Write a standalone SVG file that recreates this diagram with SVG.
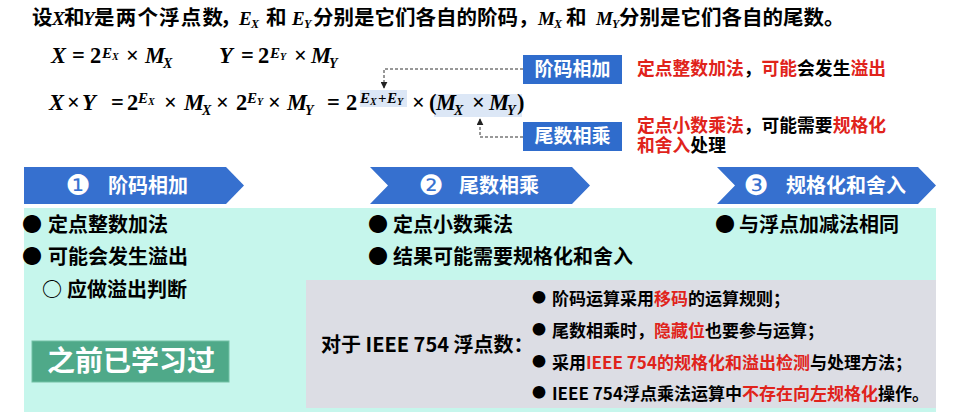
<svg xmlns="http://www.w3.org/2000/svg" width="960" height="412" viewBox="0 0 960 412">
<style>
.cn{font-family:"Noto Sans CJK SC","Liberation Sans",sans-serif;font-weight:bold}
.ti{font-family:"Liberation Serif",serif;font-style:italic;font-weight:bold;font-size:19px}
.tis{font-family:"Liberation Serif",serif;font-style:italic;font-weight:bold;font-size:12px}
.m{font-family:"Liberation Serif",serif;font-weight:bold;font-style:italic;font-size:22.5px}
.mu{font-style:normal}
.sp{font-size:15px}
.ss{font-size:10px}
.sb{font-size:14px}
.red{fill:#E0231B}
.wh{fill:#FFFFFF}
.chev{fill:#3670CF}
.lbl{fill:#2F6CCC}
.hl{fill:#DCE7F6}
.dash{fill:none;stroke:#333;stroke-width:1;stroke-dasharray:3 2}
.circ{font-family:"DejaVu Sans",sans-serif;font-size:28px;fill:#FFFFFF}
.gb{font-size:14px}
</style>
<defs>
<marker id="ah" viewBox="0 0 10 10" refX="9" refY="5" markerWidth="7" markerHeight="7" orient="auto" markerUnits="userSpaceOnUse">
<path d="M0,0 L10,5 L0,10 z" fill="#222"/>
</marker>
</defs>
<rect width="960" height="412" fill="#FFFFFF"/>

<!-- title -->
<g id="title" fill="#000">
<text class="cn" font-size="20.5" y="25"><tspan x="32">设</tspan><tspan x="64">和</tspan></text>
<text class="ti" x="52" y="25">X</text>
<text class="ti" x="83" y="25">Y</text>
<text class="cn" font-size="20.5" y="25" x="94" letter-spacing="1.2">是两个浮点数</text>
<text class="cn" font-size="20.5" y="25" x="220">，</text>
<text class="ti" x="239" y="25">E</text><text class="tis" x="251" y="28">X</text>
<text class="cn" font-size="20.5" x="266" y="25">和</text>
<text class="ti" x="292" y="25">E</text><text class="tis" x="304" y="28">Y</text>
<text class="cn" font-size="20.5" x="313" y="25">分别是它们各自的阶码，</text>
<text class="ti" x="538" y="25">M</text><text class="tis" x="554" y="28">X</text>
<text class="cn" font-size="20.5" x="566" y="25">和</text>
<text class="ti" x="596" y="25">M</text><text class="tis" x="612" y="28">Y</text>
<text class="cn" font-size="20.5" x="619" y="25">分别是它们各自的尾数。</text>
</g>

<!-- highlights -->
<g id="highlights">
<rect class="hl" x="360" y="90" width="47" height="17"/>
<rect class="hl" x="434" y="94" width="88" height="23"/>
</g>

<!-- formula row 1 -->
<g id="formula1" fill="#000">
<text class="m" y="63"><tspan x="51">X</tspan><tspan x="72" class="mu">=</tspan><tspan x="90" class="mu">2</tspan><tspan x="102" y="58" class="sp">E</tspan><tspan x="112" y="60" class="ss">X</tspan><tspan x="126" y="63" class="mu">×</tspan><tspan x="145">M</tspan><tspan x="163" y="68" class="sb">X</tspan></text>
<text class="m" y="63"><tspan x="219">Y</tspan><tspan x="241" class="mu">=</tspan><tspan x="258" class="mu">2</tspan><tspan x="270" y="58" class="sp">E</tspan><tspan x="280" y="60" class="ss">Y</tspan><tspan x="294" y="63" class="mu">×</tspan><tspan x="311">M</tspan><tspan x="329" y="68" class="sb">Y</tspan></text>
</g>

<!-- formula row 2 -->
<g id="formula2" fill="#000">
<text class="m" y="110"><tspan x="49">X</tspan><tspan x="67" class="mu">×</tspan><tspan x="82">Y</tspan><tspan x="111" class="mu">=</tspan><tspan x="127" class="mu">2</tspan><tspan x="138" y="103" class="sp">E</tspan><tspan x="148" y="105" class="ss">X</tspan><tspan x="164" y="110" class="mu">×</tspan><tspan x="184">M</tspan><tspan x="202" y="115" class="sb">X</tspan><tspan x="216" y="110" class="mu">×</tspan><tspan x="236" class="mu">2</tspan><tspan x="247" y="103" class="sp">E</tspan><tspan x="257" y="105" class="ss">Y</tspan><tspan x="268" y="110" class="mu">×</tspan><tspan x="287">M</tspan><tspan x="305" y="115" class="sb">Y</tspan><tspan x="327" y="110" class="mu">=</tspan><tspan x="346" class="mu">2</tspan><tspan x="360" y="103" class="sp">E</tspan><tspan x="370" y="105" class="ss">X</tspan><tspan x="378" y="103" class="sp mu">+</tspan><tspan x="387" class="sp">E</tspan><tspan x="397" y="105" class="ss">Y</tspan><tspan x="412" y="110" class="mu">×</tspan><tspan x="429" class="mu">(</tspan><tspan x="436">M</tspan><tspan x="454" y="115" class="sb">X</tspan><tspan x="472" y="110" class="mu">×</tspan><tspan x="489">M</tspan><tspan x="507" y="115" class="sb">Y</tspan><tspan x="517" y="110" class="mu">)</tspan></text>
</g>

<!-- connectors -->
<g id="connectors">
<polyline class="dash" points="523,69 384,69 384,88" marker-end="url(#ah)"/>
<polyline class="dash" points="523,137 480,137 480,119" marker-end="url(#ah)"/>
</g>

<!-- label boxes -->
<g id="box-jiema">
<rect class="lbl" x="523" y="55" width="99" height="29"/>
<text class="cn wh" font-size="19" x="572.5" y="76" text-anchor="middle">阶码相加</text>
</g>
<g id="box-weishu">
<rect class="lbl" x="523" y="122" width="99" height="29"/>
<text class="cn wh" font-size="19" x="572.5" y="143" text-anchor="middle">尾数相乘</text>
</g>

<!-- annotations -->
<g id="note1">
<text class="cn" font-size="17.8" x="637" y="75"><tspan class="red">定点整数加法</tspan><tspan fill="#000">，</tspan><tspan class="red">可能</tspan><tspan fill="#000">会发生</tspan><tspan class="red">溢出</tspan></text>
</g>
<g id="note2">
<text class="cn" font-size="17.8" x="637" y="132"><tspan class="red">定点小数乘法</tspan><tspan fill="#000">，可能需要</tspan><tspan class="red">规格化</tspan></text>
<text class="cn" font-size="17.8" x="637" y="152"><tspan class="red">和舍入</tspan><tspan fill="#000">处理</tspan></text>
</g>

<!-- step chevrons -->
<g id="step1">
<polygon class="chev" points="24,167 226,167 244,185.5 226,204 24,204"/>
<text class="circ" x="78" y="195" text-anchor="middle">❶</text>
<text class="cn wh" font-size="20" x="108" y="193">阶码相加</text>
</g>
<g id="step2">
<polygon class="chev" points="370,167 572,167 590,185.5 572,204 370,204 388,185.5"/>
<text class="circ" x="431" y="195" text-anchor="middle">❷</text>
<text class="cn wh" font-size="20" x="459" y="193">尾数相乘</text>
</g>
<g id="step3">
<polygon class="chev" points="717,167 918,167 936,185.5 918,204 717,204 735,185.5"/>
<text class="circ" x="756" y="195" text-anchor="middle">❸</text>
<text class="cn wh" font-size="20" x="786" y="193">规格化和舍入</text>
</g>

<!-- panels -->
<g id="panel-mint">
<rect x="24" y="208" width="912" height="204" fill="#C6F6EC"/>
<text class="cn" font-size="20" y="232" fill="#000"><tspan x="22">●</tspan><tspan x="48">定点整数加法</tspan></text>
<text class="cn" font-size="20" y="264" fill="#000"><tspan x="22">●</tspan><tspan x="48">可能会发生溢出</tspan></text>
<text class="cn" font-size="20" y="297" fill="#000"><tspan x="42">○</tspan><tspan x="67">应做溢出判断</tspan></text>
<text class="cn" font-size="20" y="232" fill="#000"><tspan x="368">●</tspan><tspan x="393">定点小数乘法</tspan></text>
<text class="cn" font-size="20" y="264" fill="#000"><tspan x="368">●</tspan><tspan x="393">结果可能需要规格化和舍入</tspan></text>
<text class="cn" font-size="20" y="232" fill="#000"><tspan x="715">●</tspan><tspan x="739">与浮点加减法相同</tspan></text>
</g>

<g id="box-learned">
<rect x="32" y="341" width="197" height="41" fill="#4FA989" stroke="#72C0A4" stroke-width="1"/>
<text class="cn wh" font-size="28" x="47" y="371">之前已学习过</text>
</g>

<g id="panel-ieee">
<rect x="306" y="280" width="630" height="128" fill="#DCDDE4"/>
<text class="cn" font-size="20" x="321" y="352" fill="#000">对于 IEEE 754 浮点数：</text>
<text class="cn" font-size="17" fill="#000"><tspan x="532" y="302" class="gb">●</tspan><tspan x="552" y="305">阶码运算采用</tspan><tspan class="red">移码</tspan><tspan>的运算规则；</tspan></text>
<text class="cn" font-size="17" fill="#000"><tspan x="532" y="334" class="gb">●</tspan><tspan x="552" y="337">尾数相乘时，</tspan><tspan class="red">隐藏位</tspan><tspan>也要参与运算；</tspan></text>
<text class="cn" font-size="17" fill="#000"><tspan x="532" y="366" class="gb">●</tspan><tspan x="552" y="369">采用</tspan><tspan class="red">IEEE 754的规格化和溢出检测</tspan><tspan>与处理方法；</tspan></text>
<text class="cn" font-size="17" fill="#000"><tspan x="532" y="397" class="gb">●</tspan><tspan x="552" y="400">IEEE 754浮点乘法运算中</tspan><tspan class="red">不存在向左规格化</tspan><tspan>操作。</tspan></text>
</g>
</svg>
